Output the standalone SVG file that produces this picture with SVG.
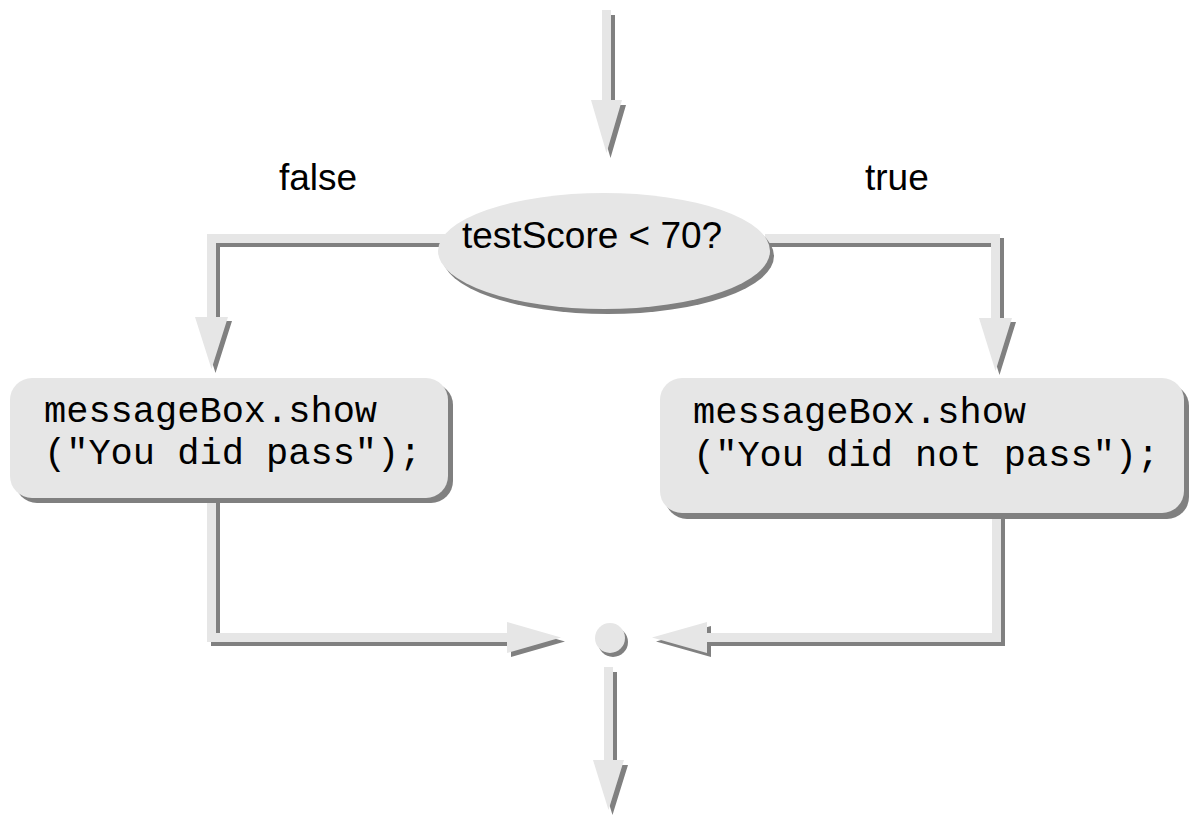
<svg xmlns="http://www.w3.org/2000/svg" xmlns:xlink="http://www.w3.org/1999/xlink" width="1196" height="816" viewBox="0 0 1196 816">
  <style>
    .face { fill: #e6e6e6; }
    .shadow { fill: #808080; }
    .label { font-family: "Liberation Sans", Arial, sans-serif; font-size: 37px; fill: #000; }
    .code { font-family: "Courier New", "Liberation Mono", monospace; font-size: 37px; fill: #000; white-space: pre; }
  </style>
  <defs>
    <!-- connector outlines: shaft plus arrowhead as one shape -->
    <path id="c-entry" d="M602,10 H611 V100 H622 L606.5,153 L591,100 H602 Z"/>
    <path id="c-false" d="M445,234 H207 V317 H195 L211.5,369 L228,317 H216 V243 H445 Z"/>
    <path id="c-true" d="M765,234 H1000 V318 H1012 L995.5,371 L979,318 H991 V243 H765 Z"/>
    <path id="c-pass-join" d="M207,498 H216 V633 H507 V622 L561,637.5 L507,653 V642 H207 Z"/>
    <path id="c-fail-join" d="M992,512 H1001 V642 H707 V653 L652,637.5 L707,622 V633 H992 Z"/>
    <path id="c-exit" d="M604,667 H613 V760 H624 L608.5,810 L593,760 H604 Z"/>
    <!-- node outlines -->
    <ellipse id="s-decision" cx="604" cy="251" rx="166" ry="58"/>
    <rect id="s-pass" x="10" y="378" width="438" height="120" rx="22" ry="22"/>
    <rect id="s-fail" x="660" y="378" width="524" height="135" rx="22" ry="22"/>
    <circle id="s-join" cx="610" cy="638" r="15"/>
  </defs>

  <g id="connectors">
    <use xlink:href="#c-entry" class="shadow" transform="translate(4,5)"/>
    <use xlink:href="#c-entry" class="face"/>
    <use xlink:href="#c-false" class="shadow" transform="translate(4,4)"/>
    <use xlink:href="#c-false" class="face"/>
    <use xlink:href="#c-true" class="shadow" transform="translate(4,4)"/>
    <use xlink:href="#c-true" class="face"/>
    <use xlink:href="#c-pass-join" class="shadow" transform="translate(4,4)"/>
    <use xlink:href="#c-pass-join" class="face"/>
    <use xlink:href="#c-fail-join" class="shadow" transform="translate(4,4)"/>
    <use xlink:href="#c-fail-join" class="face"/>
    <use xlink:href="#c-exit" class="shadow" transform="translate(4,5)"/>
    <use xlink:href="#c-exit" class="face"/>
  </g>

  <g id="branch-labels">
    <text class="label" x="279" y="190">false</text>
    <text class="label" x="865" y="190">true</text>
  </g>

  <g id="decision">
    <use xlink:href="#s-decision" class="shadow" transform="translate(4,5)"/>
    <use xlink:href="#s-decision" class="face"/>
    <text class="label" x="462" y="248">testScore &lt; 70?</text>
  </g>

  <g id="pass-message">
    <use xlink:href="#s-pass" class="shadow" transform="translate(5,5)"/>
    <use xlink:href="#s-pass" class="face"/>
    <text class="code" x="44" y="422">messageBox.show</text>
    <text class="code" x="44" y="464">("You did pass");</text>
  </g>

  <g id="fail-message">
    <use xlink:href="#s-fail" class="shadow" transform="translate(5,6)"/>
    <use xlink:href="#s-fail" class="face"/>
    <text class="code" x="693" y="423">messageBox.show</text>
    <text class="code" x="693" y="466">("You did not pass");</text>
  </g>

  <g id="join">
    <use xlink:href="#s-join" class="shadow" transform="translate(3,4)"/>
    <use xlink:href="#s-join" class="face"/>
  </g>
</svg>
